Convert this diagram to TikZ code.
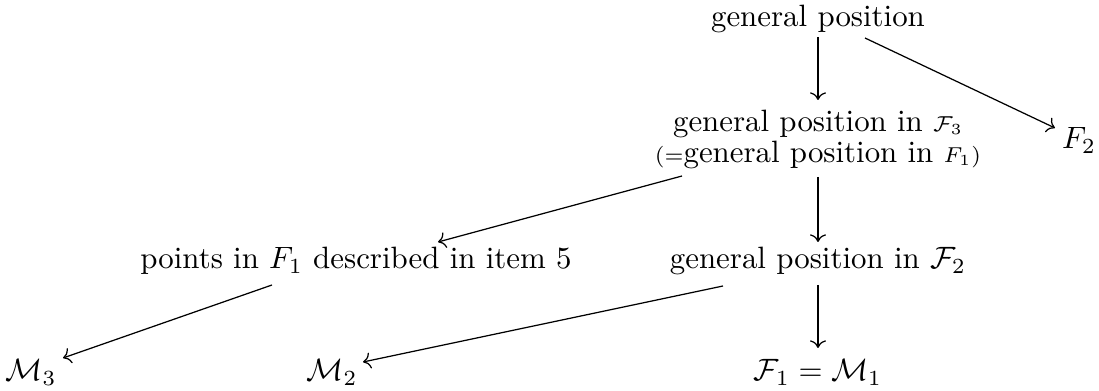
\documentclass[tikz,border=0pt]{standalone}
\usetikzlibrary{arrows.meta,calc}
\begin{document}
\begin{tikzpicture}[x=0.32393pt,y=-0.32393pt,
  lbl/.style={inner sep=0pt,outer sep=0pt,anchor=base},
  arr/.style={-{Computer Modern Rightarrow},line width=0.4pt}]
\path[use as bounding box] (0,0) rectangle (1099,391);
\node[lbl] (top) at (818,27) {general position};
\node[inner sep=0pt,outer sep=0pt,align=center,anchor=north,execute at begin node={\setlength{\baselineskip}{8.4pt}}] (n2) at (818,110)
  {general position in $\scriptstyle\mathcal{F}_3$\\ $\scriptstyle(=$general position in $\scriptstyle F_1)$};
\node[lbl] (F2) at (1079,149) {$F_2$};
\node[lbl] (pts) at (356,269) {points in $F_1$ described in item 5};
\node[lbl] (gp2) at (818,269) {general position in $\mathcal{F}_2$};
\node[lbl] (m3) at (31,381) {$\mathcal{M}_3$};
\node[lbl] (m2) at (332,381) {$\mathcal{M}_2$};
\node[lbl] (f1m1) at (818,381) {$\mathcal{F}_1=\mathcal{M}_1$};
\draw[arr] ($(top.base)+(0,10)$) -- ($(n2.north)+(0,-10)$);
\draw[arr] ($(top.base)+(47,11)$) -- ($(F2.base)+(-24,-21)$);
\draw[arr] ($(n2.north)+(-136,66)$) -- ($(pts.base)+(82,-27)$);
\draw[arr] ($(n2.north)+(0,67)$) -- ($(gp2.base)+(0,-27)$);
\draw[arr] ($(pts.base)+(-84,16)$) -- ($(m3.base)+(32,-23)$);
\draw[arr] ($(gp2.base)+(-95,17)$) -- ($(m2.base)+(31,-19)$);
\draw[arr] ($(gp2.base)+(0,16)$) -- ($(f1m1.base)+(0,-33)$);
\end{tikzpicture}
\end{document}
